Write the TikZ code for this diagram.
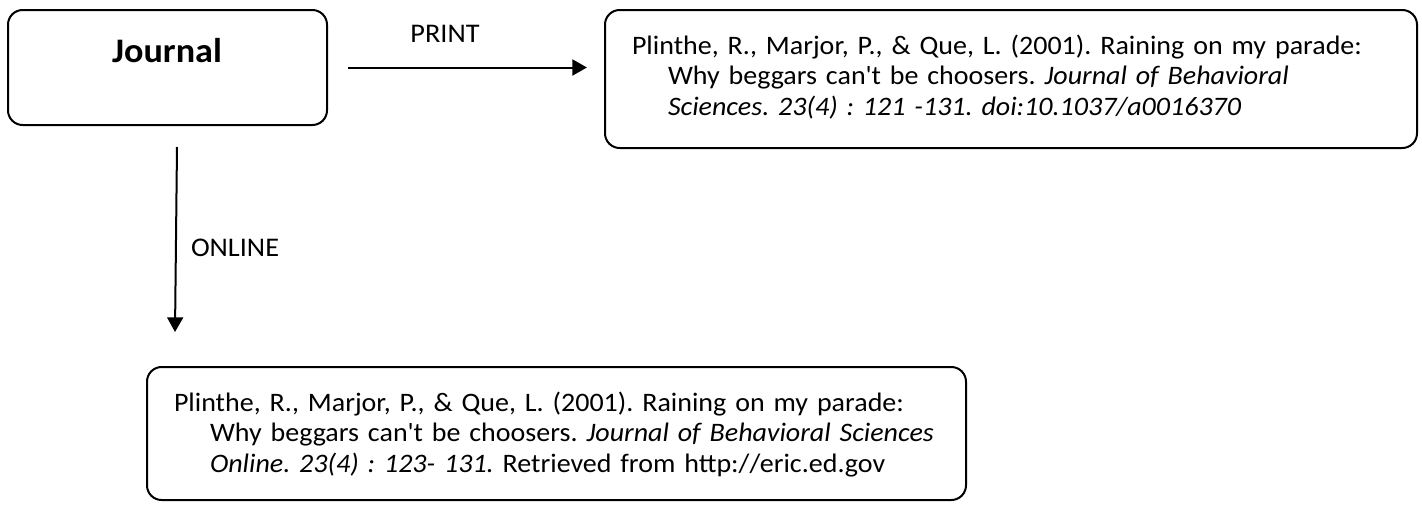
\documentclass[tikz,border=0pt]{standalone}
\usepackage{fontspec}
\setmainfont{Carlito}[FakeStretch=1.05]
\usetikzlibrary{arrows.meta}
\frenchspacing

\tikzset{every picture/.style={line width=1.5pt}}
\tikzset{
  refbox/.style={draw, rounded corners=11pt, inner sep=0pt},
  reftext/.style={anchor=base west, align=left, text width=600pt, inner sep=0pt, font=\fontsize{20pt}{23pt}\selectfont},
  arrowlabel/.style={inner sep=0pt, font=\fontsize{20.2pt}{23pt}\selectfont},
  linkarrow/.style={-{Triangle[length=11pt,width=12pt]}}
}
\newcommand{\hangline}{\hspace*{27pt}}

\begin{document}
\begin{tikzpicture}[x=0.75pt,y=0.75pt,yscale=-1,xscale=1]
	\useasboundingbox (0,0) rectangle (1422,504);

	%Rounded Rect [id:journal] 
	\node [refbox, minimum width=239.25pt, minimum height=86.25pt] (journal) at (167.5,67.5) {};
	%Rounded Rect [id:print] 
	\node [refbox, minimum width=609pt, minimum height=103.5pt] (print) at (1011,79) {};
	%Rounded Rect [id:online] 
	\node [refbox, minimum width=614.25pt, minimum height=99.75pt] (online) at (556.5,433.5) {};

	%Straight Lines [id:printarrow] 
	\draw [linkarrow, shorten <=15pt, shorten >=12.75pt] (journal.east) -- (journal.east -| print.west) ;
	%Straight Lines [id:onlinearrow] 
	\coordinate (onlinetop) at (177,147);
	\coordinate (onlinetip) at (175,332);
	\draw [linkarrow] (onlinetop) -- (onlinetip) ;

	% Text Node
	\node [inner sep=0pt, font=\fontsize{25.8pt}{28pt}\selectfont\bfseries] (journaltitle) at (167,51) {Journal};
	% Text Node
	\node [arrowlabel] (printlabel) at (445,34) {PRINT};
	% Text Node
	\node [arrowlabel, anchor=west] (onlinelabel) at (190,248) {ONLINE};
	% Text Node
	\node [reftext] (printref) at (631,54) {Plinthe, R., Marjor, P., \& Que, L. (2001). Raining on my parade:\\ \hangline Why beggars can\textquotesingle t be choosers. \textit{Journal of Behavioral}\\ \hangline\textit{Sciences. 23(4) : 121 -131. doi:10.1037/a0016370}};
	% Text Node
	\node [reftext] (onlineref) at (173,411) {Plinthe, R., Marjor, P., \& Que, L. (2001). Raining on my parade:\\ \hangline Why beggars can\textquotesingle t be choosers. \textit{Journal of Behavioral Sciences}\\ \hangline\textit{Online. 23(4) : 123- 131.} Retrieved from http://eric.ed.gov};

\end{tikzpicture}
\end{document}
